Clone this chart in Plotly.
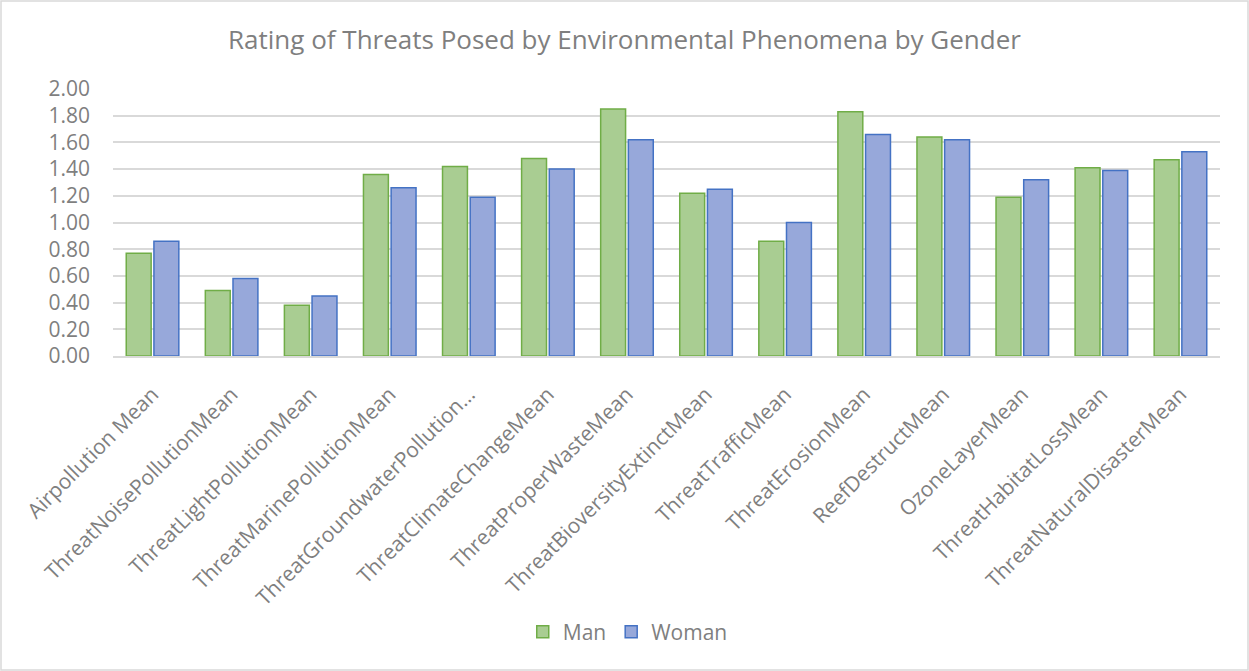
import plotly.graph_objects as go

# categories and the two series (means per gender)
categories = [
    "Airpollution Mean", "ThreatNoisePollutionMean", "ThreatLightPollutionMean",
    "ThreatMarinePollutionMean", "ThreatGroundwaterPollution…", "ThreatClimateChangeMean",
    "ThreatProperWasteMean", "ThreatBioversityExtinctMean", "ThreatTrafficMean",
    "ThreatErosionMean", "ReefDestructMean", "OzoneLayerMean",
    "ThreatHabitatLossMean", "ThreatNaturalDisasterMean",
]
man = [0.77, 0.49, 0.38, 1.36, 1.42, 1.48, 1.85, 1.22, 0.86, 1.83, 1.64, 1.19, 1.41, 1.47]
woman = [0.86, 0.58, 0.45, 1.26, 1.19, 1.40, 1.62, 1.25, 1.00, 1.66, 1.62, 1.32, 1.39, 1.53]
y_ticks = [0.0, 0.2, 0.4, 0.6, 0.8, 1.0, 1.2, 1.4, 1.6, 1.8, 2.0]

font_family = "'Open Sans', Lato, sans-serif"
grey = "#7f7f7f"

fig = go.Figure()
fig.add_trace(go.Bar(
    x=categories, y=man, name="Man",
    marker=dict(color="#a9cd92", line=dict(color="#70ad47", width=1.5)),
))
fig.add_trace(go.Bar(
    x=categories, y=woman, name="Woman",
    marker=dict(color="#97a8da", line=dict(color="#4472c4", width=1.5)),
))

# plot area: left 113, right 1220, top 89, bottom 356 (of 1249x671)
L, R, T, B = 113, 29, 89, 315
pw, ph = 1249 - L - R, 671 - T - B

fig.update_layout(
    width=1249, height=671,
    margin=dict(l=L, r=R, t=T, b=B),
    paper_bgcolor="white", plot_bgcolor="white",
    font=dict(family=font_family, color=grey, size=21),
    title=dict(text="Rating of Threats Posed by Environmental Phenomena by Gender",
               x=0.5, xanchor="center", y=1 - 40 / 671, yanchor="middle",
               font=dict(size=26, color=grey)),
    barmode="group", bargap=0.3, bargroupgap=0.1,
    legend=dict(orientation="h", x=0.465, xanchor="center",
                y=-(632 - 356) / ph, yanchor="middle",
                font=dict(size=21, color=grey)),
    showlegend=True,
)
fig.update_yaxes(range=[0, 2.0], tickvals=y_ticks, tickformat=".2f",
                 showgrid=True, gridcolor="#d9d9d9", gridwidth=1.5,
                 zeroline=False, showline=False, ticks="", ticklabelstandoff=22,
                 tickfont=dict(size=21, color=grey))
fig.update_xaxes(tickangle=-45, showline=True, linecolor="#d9d9d9", linewidth=1.5,
                 ticks="", ticklabelstandoff=16, tickfont=dict(size=21, color=grey))

# outer chart border
fig.add_shape(type="rect", xref="paper", yref="paper",
              x0=-(L - 1) / pw, x1=1 + (R - 1) / pw,
              y0=-(B - 1) / ph, y1=1 + (T - 1) / ph,
              line=dict(color="#d9d9d9", width=1.5), fillcolor="rgba(0,0,0,0)")

fig.write_html("out.html", config={"displayModeBar": False},
               post_script="document.body.style.margin='0';")
